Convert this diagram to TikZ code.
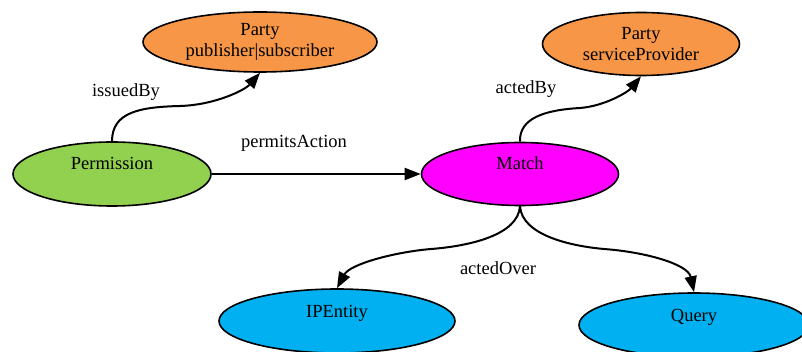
\documentclass[tikz,border=0pt]{standalone}
\usepackage{fontspec}
\setmainfont{Liberation Serif}
\usepackage{tikz}
\usetikzlibrary{shapes.geometric,arrows.meta}

\definecolor{permgreen}{HTML}{92D050}
\definecolor{partyorange}{HTML}{F79646}
\definecolor{matchpink}{HTML}{FF00FF}
\definecolor{entblue}{HTML}{00B0F0}

\begin{document}
\begin{tikzpicture}[x=1pt, y=-1pt,
          oval/.style={ellipse, draw=black, line width=1.6pt,
              font=\fontsize{18.5}{21}\selectfont, align=center, inner sep=0pt},
          oneline/.style={oval, text height=13pt, text depth=21pt},
          lbl/.style={font=\fontsize{18.5}{21}\selectfont, inner sep=0pt},
          arr/.style={-{Triangle[length=16pt,width=12pt]}, line width=2pt, black}
        ]
        \useasboundingbox (0,0) rectangle (802,352);
        \node[oneline, fill=permgreen, minimum width=198pt, minimum height=64pt]
            (perm)   at (112,174) {Permission};
        \node[oneline, fill=matchpink, minimum width=197pt, minimum height=63pt]
            (match)  at (520,174) {Match};
        \node[oval, fill=partyorange, minimum width=234pt, minimum height=60pt]
            (partyA) at (260,42)  {Party\\publisher|subscriber};
        \node[oval, fill=partyorange, minimum width=197pt, minimum height=63pt]
            (partyB) at (641,44)  {Party\\serviceProvider};
        \node[oneline, fill=entblue, minimum width=236pt, minimum height=64pt]
            (ipent)  at (337,321) {IPEntity};
        \node[oneline, fill=entblue, minimum width=230pt, minimum height=64pt]
            (query)  at (694,325) {Query};
        % edge labels
        \node[lbl] (lIssued)  at (126,92)  {issuedBy};
        \node[lbl] (lPermits) at (294,143) {permitsAction};
        \node[lbl] (lActedBy) at (526,89)  {actedBy};
        \node[lbl] (lOver)    at (498,268) {actedOver};
        % edges
        \draw[arr] (perm.east) -- (match.west);
        \draw[arr] (perm.north) .. controls (112,112) and (140,107) .. (180,106)
            .. controls (215,105) and (245,90) .. (partyA.south);
        \draw[arr] (match.north) .. controls (519,118) and (545,110) .. (580,108)
            .. controls (605,106) and (628,92) .. (partyB.south);
        \draw[arr] (match.south) .. controls (518,235) and (470,246) .. (431,249)
            .. controls (395,252) and (350,264) .. (ipent.north);
        \draw[arr] (match.south) .. controls (522,235) and (570,246) .. (604,249)
            .. controls (645,252) and (688,264) .. (query.north);
      \end{tikzpicture}
\end{document}
